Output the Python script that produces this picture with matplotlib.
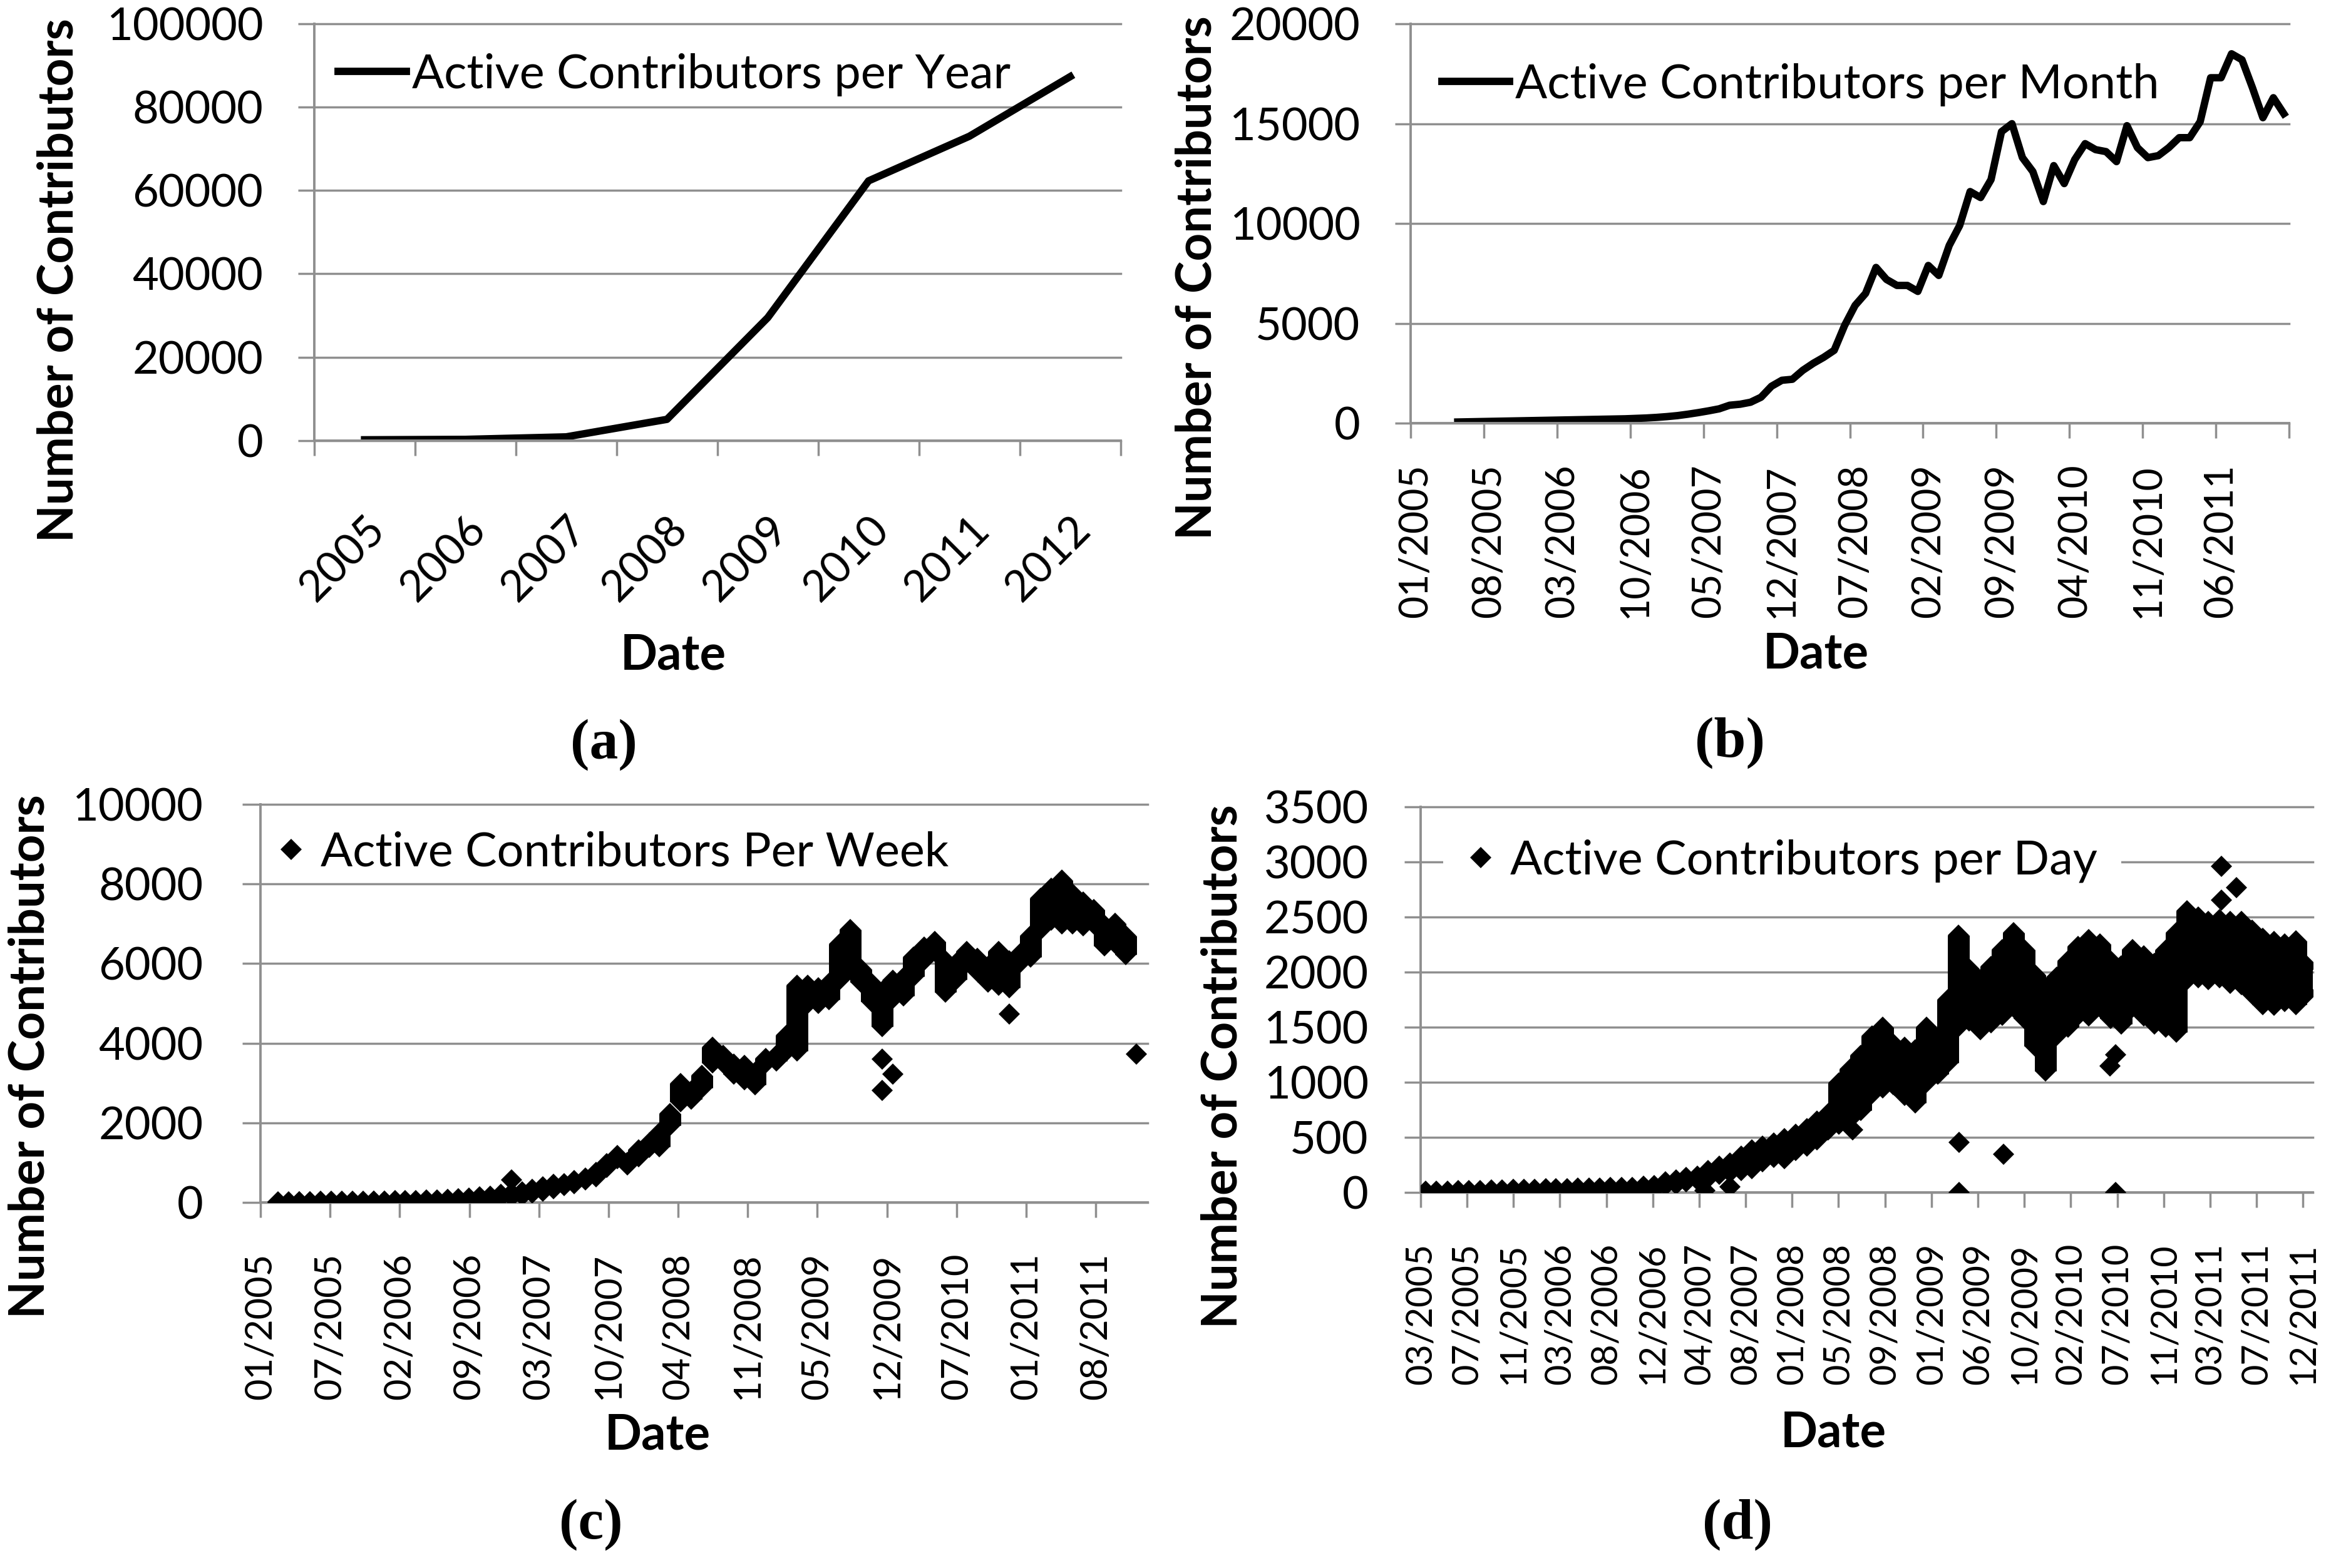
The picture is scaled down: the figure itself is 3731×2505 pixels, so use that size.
# -*- coding: utf-8 -*-

### Active contributors per year / month / week / day ###

import numpy as np
import pandas as pd
import matplotlib
matplotlib.use("Agg")
import matplotlib.pyplot as plt
from matplotlib.lines import Line2D

plt.rcParams['font.family'] = ['Lato', 'DejaVu Sans']

## Data ##

# (a) per year
years = ['2005', '2006', '2007', '2008', '2009', '2010', '2011', '2012']
year_counts = [200, 300, 900, 5100, 29500, 62300, 73000, 87300]

# (b) per month, 84 months 01/2005 - 12/2011, data from 05/2005 (index 4)
month_labels = ['01/2005', '08/2005', '03/2006', '10/2006', '05/2007', '12/2007',
                '07/2008', '02/2009', '09/2009', '04/2010', '11/2010', '06/2011']
month_first = 4
month_counts = [60, 70, 80, 90, 100, 110, 120, 130, 140, 150, 160, 170, 180, 190, 200, 210, 220,
                240, 260, 290, 330, 380, 450, 530, 620, 720, 900,
                950, 1050, 1300, 1850, 2150, 2200, 2650, 3000, 3300, 3650,
                4900, 5900, 6500, 7800, 7200, 6900, 6900, 6600, 7900, 7400,
                8900, 9900, 11600, 11300, 12200, 14600, 15000, 13300, 12600, 11100,
                12900, 12000, 13200, 14000, 13700, 13600, 13100, 14900, 13800, 13300,
                13400, 13800, 14300, 14300, 15100, 17300, 17300, 18500, 18200, 16800,
                15300, 16300, 15500]

# (c) per week: weekly values stacked per month (03/2005 - 11/2011), low / high of each month
week_axis_start = '2005-01-10'
week_tick_labels = ['01/2005', '07/2005', '02/2006', '09/2006', '03/2007', '10/2007', '04/2008',
                    '11/2008', '05/2009', '12/2009', '07/2010', '01/2011', '08/2011']
week_lo = [5, 8, 10, 12, 14, 16, 18, 20, 22, 25, 28, 30, 35, 40, 45, 50, 55, 60, 70, 90,
           110, 130, 150, 180, 230, 290,
           340, 430, 480, 560, 650, 880, 1100, 950, 1150, 1380,
           1400, 1940, 2530, 2600, 2880, 3500, 3500, 3230, 3090, 2950,
           3500, 3550, 3800, 3800, 5000, 5000, 5100, 5600, 5900,
           5535, 5050, 4420, 5120, 5190, 5680, 6090, 6300, 5290, 5600,
           6020, 5810, 5530, 5460, 5400, 6020, 6160, 6850, 7100, 7000,
           7000, 6950, 7000, 6440, 6510, 6230]
week_hi = [15, 18, 20, 22, 25, 27, 30, 32, 35, 38, 40, 45, 50, 55, 60, 70, 85, 100, 115, 135,
           160, 200, 240, 270, 330, 400,
           450, 480, 550, 620, 760, 980, 1180, 1010, 1320, 1500,
           1750, 2230, 2990, 2800, 3200, 3900, 3700, 3480, 3450, 3270,
           3620, 3700, 4200, 5450, 5450, 5400, 5500, 6500, 6850,
           5860, 5510, 5300, 5580, 5650, 6170, 6410, 6550, 6070, 6000,
           6310, 6140, 5930, 6310, 6070, 6250, 6700, 7650, 7900, 8100,
           7750, 7550, 7360, 6970, 7010, 6700]
week_out_month = [22, 57, 57, 58, 69, 81]   # months after 03/2005
week_out_value = [565, 3600, 2810, 3220, 4740, 3720]

# (d) per day: low / high of daily values in each month (03/2005 - 12/2011)
day_axis_start = '2005-03-01'
day_tick_labels = ['03/2005', '07/2005', '11/2005', '03/2006', '08/2006', '12/2006', '04/2007',
                   '08/2007', '01/2008', '05/2008', '09/2008', '01/2009', '06/2009', '10/2009',
                   '02/2010', '07/2010', '11/2010', '03/2011', '07/2011', '12/2011']
day_lo = [0, 0, 1, 2, 3, 4, 5, 6, 7, 8,
          9, 10, 11, 12, 13, 14, 15, 16, 17, 18, 20, 25,
          60, 75, 95, 116, 130, 167, 180, 200, 217, 280, 318, 306,
          380, 419, 480, 571, 621, 672, 747, 900, 950, 975, 880, 810,
          1000, 1076, 1177, 1505, 1555, 1480, 1540, 1606, 1682, 1581, 1328, 1101,
          1429, 1500, 1606, 1600, 1682, 1580, 1530, 1682, 1600, 1530, 1500, 1454,
          1934, 1950, 1934, 1950, 1900, 1884, 1800, 1707, 1700, 1733, 1707, 1808]
day_hi = [10, 12, 14, 16, 18, 20, 22, 24, 26, 28,
          30, 32, 34, 36, 38, 40, 42, 44, 46, 48, 55, 62,
          95, 115, 135, 150, 200, 237, 270, 330, 389, 420, 452, 490,
          530, 578, 650, 717, 995, 1121, 1247, 1420, 1500, 1348, 1320, 1298,
          1500, 1348, 1752, 2333, 2030, 1917, 2050, 2207, 2359, 2207, 1980, 1854,
          1954, 2100, 2232, 2295, 2257, 2100, 2055, 2207, 2150, 2080, 2200, 2359,
          2560, 2500, 2460, 2480, 2460, 2460, 2380, 2308, 2280, 2257, 2282, 2055]
day_out_dates = ['2007-05-06', '2007-07-15', '2008-06-23', '2009-04-16', '2009-04-16', '2009-08-19',
                 '2010-06-12', '2010-06-29', '2010-06-29', '2011-04-21', '2011-04-21', '2011-06-02']
day_out_values = [15, 53, 571, 455, 0, 348, 1149, 1250, 0, 2959, 2656, 2765]

## Style ##

grid_color = '#8f8f8f'
ytick_size = 52
leg_size = 54.5
label_size = 56
panel_size = 66
line_w = 8.5
dia_ms = 17.8
dia_w = dia_ms * 1.414


def style_axes(ax, ymax, ystep, ylen, ypad):
    ax.set_ylim(0, ymax)
    ax.set_yticks(np.arange(0, ymax + 1, ystep))
    ax.yaxis.grid(True, color=grid_color, linewidth=2.5)
    ax.set_axisbelow(True)
    for s in ['top', 'right']:
        ax.spines[s].set_visible(False)
    for s in ['left', 'bottom']:
        ax.spines[s].set_color(grid_color)
        ax.spines[s].set_linewidth(2.8)
    ax.tick_params(axis='y', direction='out', length=ylen, width=2.5, color=grid_color,
                   pad=ypad, labelsize=ytick_size)
    ax.tick_params(axis='x', which='both', direction='out', width=2.5, color=grid_color)
    for t in ax.yaxis.get_major_ticks():
        t.gridline.set_clip_on(False)


def stacked(ax, x, lo, hi, fill=False):
    # values of one month sit on the same x, drawn as a column of diamonds
    if fill:
        ax.fill_between(x, lo, hi, color='black', lw=0, zorder=3)
    ax.vlines(x, lo, hi, colors='black', linewidth=dia_w, capstyle='butt', zorder=3)
    ax.plot(x, lo, 'D', color='black', ms=dia_ms, mew=0, ls='none', zorder=3)
    ax.plot(x, hi, 'D', color='black', ms=dia_ms, mew=0, ls='none', zorder=3)


fig = plt.figure(figsize=(37.31, 25.05), dpi=100)

# (a)
ax = fig.add_axes([0.1345, 0.7190, 0.3452, 0.2659])
style_axes(ax, 100000, 20000, 18.7, 40)
ax.plot(range(len(years)), year_counts, color='black', lw=line_w)
ax.set_xlim(-0.5, len(years) - 0.5)
ax.set_xticks(range(len(years)))
ax.set_xticklabels(years, rotation=45, ha='right', va='top', rotation_mode='anchor', fontsize=50)
ax.set_xticks(np.arange(-0.5, len(years), 1), minor=True)
ax.tick_params(axis='x', which='major', length=0, pad=79)
ax.tick_params(axis='x', which='minor', length=17)
ax.legend(handles=[Line2D([], [], color='black', lw=line_w)], labels=['Active Contributors per Year'],
          loc='center left', bbox_to_anchor=(0.030, 0.878), frameon=False, fontsize=leg_size,
          handlelength=1.43, handletextpad=0.12, borderpad=0, borderaxespad=0)

# (b)
ax = fig.add_axes([0.6039, 0.7301, 0.3760, 0.2547])
style_axes(ax, 20000, 5000, 18, 40)
mx = np.arange(month_first, month_first + len(month_counts)) + 0.5
ax.plot(mx, month_counts, color='black', lw=line_w)
ax.set_xlim(0, 84)
ax.set_xticks(np.arange(len(month_labels)) * 7 + 0.5)
ax.set_xticklabels(month_labels, rotation=90, fontsize=45)
ax.set_xticks(np.arange(0, 85, 7), minor=True)
ax.tick_params(axis='x', which='major', length=0, pad=47)
ax.tick_params(axis='x', which='minor', length=17)
ax.legend(handles=[Line2D([], [], color='black', lw=line_w)], labels=['Active Contributors per Month'],
          loc='center left', bbox_to_anchor=(0.0356, 0.848), frameon=False, fontsize=leg_size,
          handlelength=1.43, handletextpad=0.11, borderpad=0, borderaxespad=0)

# (c)
ax = fig.add_axes([0.1115, 0.2331, 0.3798, 0.2539])
style_axes(ax, 10000, 2000, 21, 45)
w0 = pd.Timestamp(week_axis_start)
months_c = pd.date_range('2005-03-01', periods=len(week_lo) + 1, freq='MS')
wx = (months_c[:len(week_lo)] - w0).days.values
stacked(ax, wx, week_lo, week_hi)
ox = (months_c[week_out_month] - w0).days.values
ax.plot(ox, week_out_value, 'D', color='black', ms=dia_ms, mew=0, ls='none', zorder=3)
ax.set_xlim(0, 2549)
ax.set_xticks(np.arange(len(week_tick_labels)) * 200)
ax.set_xticklabels(week_tick_labels, rotation=90, fontsize=43)
ax.tick_params(axis='x', length=17, pad=41)
ax.legend(handles=[Line2D([], [], color='black', marker='D', ms=dia_ms, mew=0, ls='none')],
          labels=['Active Contributors Per Week'],
          loc='center left', bbox_to_anchor=(0.0183, 0.879), frameon=False, fontsize=leg_size,
          handlelength=0.6, handletextpad=0.32, borderpad=0, borderaxespad=0)

# (d)
ax = fig.add_axes([0.6081, 0.2395, 0.3819, 0.2459])
style_axes(ax, 3500, 500, 18.7, 41)
d0 = pd.Timestamp(day_axis_start)
months_d = pd.date_range('2005-03-01', periods=len(day_lo), freq='MS') + pd.Timedelta(days=14)
dx = (months_d - d0).days.values
stacked(ax, dx, day_lo, day_hi, fill=True)
odx = (pd.to_datetime(day_out_dates) - d0).days.values
ax.plot(odx, day_out_values, 'D', color='black', ms=dia_ms, mew=0, ls='none', zorder=3)
ax.set_xlim(0, 2497)
ax.set_xticks(np.arange(len(day_tick_labels)) * 130)
ax.set_xticklabels(day_tick_labels, rotation=90, fontsize=41.5)
ax.tick_params(axis='x', length=17, pad=41)
ax.legend(handles=[Line2D([], [], color='black', marker='D', ms=dia_ms, mew=0, ls='none')],
          labels=['Active Contributors per Day'],
          loc='center left', bbox_to_anchor=(0.0253, 0.860), frameon=True, fontsize=leg_size,
          handlelength=0.6, handletextpad=0.32, borderpad=0.5, borderaxespad=0,
          facecolor='white', edgecolor='none', framealpha=1, fancybox=False)

## Axis labels and panel letters ##

for x, y in [(0.02546, 0.8212), (0.5127, 0.8228), (0.01287, 0.3261), (0.5237, 0.3198)]:
    fig.text(x, y, 'Number of Contributors', rotation=90, ha='center', va='center',
             fontsize=label_size, fontweight='bold')
for x, y in [(0.2881, 0.5820), (0.7773, 0.5828), (0.2814, 0.0846), (0.7848, 0.0862)]:
    fig.text(x, y, 'Date', ha='center', va='center', fontsize=label_size, fontweight='bold')
for x, y, t in [(0.2584, 0.5250, '(a)'), (0.7406, 0.5265, '(b)'),
                (0.2530, 0.0275, '(c)'), (0.7438, 0.0275, '(d)')]:
    fig.text(x, y, t, ha='center', va='center', fontsize=panel_size, fontweight='bold',
             family=['Liberation Serif', 'DejaVu Serif'])

fig.savefig('out.png', dpi=100, facecolor='white')
